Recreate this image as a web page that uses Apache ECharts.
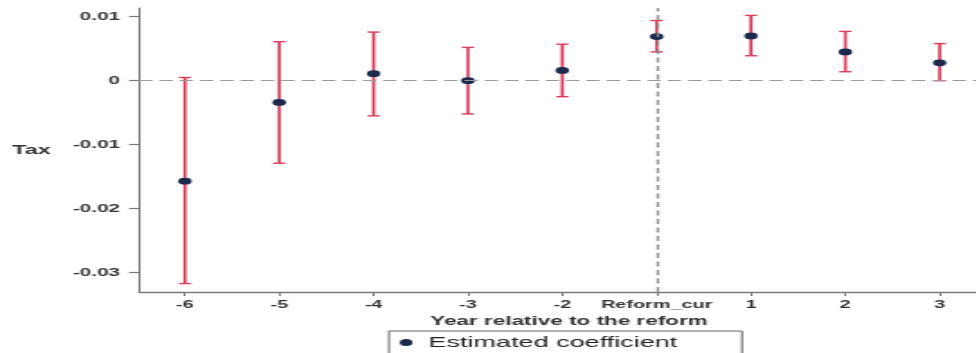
<!DOCTYPE html>
<html>
<head>
<meta charset="utf-8">
<script src="https://cdn.jsdelivr.net/npm/echarts@6/dist/echarts.min.js"></script>
<style>
  html, body { margin: 0; padding: 0; background: #fff; overflow: hidden; }
  #wrap { width: 976px; height: 353px; overflow: hidden; }
  #chart { width: 542.22px; height: 353px; transform: scaleX(1.8); transform-origin: 0 0; }
</style>
</head>
<body>
<div id="wrap"><div id="chart"></div></div>
<script>
// ---- data ----
const categories = ['-6', '-5', '-4', '-3', '-2', 'Reform_cur', '1', '2', '3'];
const coef  = [-0.0157, -0.0034, 0.0011, 0.0000, 0.0016, 0.0069, 0.0070, 0.0045, 0.0028];
const upper = [0.0005, 0.0061, 0.0076, 0.0052, 0.0057, 0.0094, 0.0102, 0.0077, 0.0058];
const lower = [-0.0317, -0.0129, -0.0055, -0.0052, -0.0025, 0.0045, 0.0039, 0.0014, 0.0000];
const yTicks = [-0.03, -0.02, -0.01, 0, 0.01];
const reformIndex = categories.indexOf('Reform_cur');

const xIdx = categories.map((c, i) => i);
const ciData = categories.map((c, i) => [i, lower[i], upper[i]]);
const ptData = categories.map((c, i) => [i, coef[i]]);

const FONT = '"Liberation Sans", Arial, sans-serif';
const RED = '#d93d5c';
const NAVY = '#1c2a4e';

const chart = echarts.init(document.getElementById('chart'));
chart.setOption({
  animation: false,
  backgroundColor: '#fff',
  grid: { left: 77.2, right: 0, top: 8, bottom: 61, containLabel: false },
  xAxis: {
    type: 'value',
    min: -0.487,
    max: 8.381,
    splitLine: { show: false },
    axisLine: { onZero: false, lineStyle: { color: '#7a7a7a', width: 1.3 } },
    axisTick: { customValues: xIdx, length: 4, lineStyle: { color: '#7a7a7a', width: 1 } },
    axisLabel: {
      customValues: xIdx,
      formatter: v => categories[Math.round(v)],
      margin: 7,
      fontFamily: FONT, fontSize: 11, fontWeight: 'bold', color: '#333'
    },
    name: 'Year relative to the reform',
    nameLocation: 'middle',
    nameGap: 17,
    nameTextStyle: { fontFamily: FONT, fontSize: 12.5, fontWeight: 'bold', color: '#333', padding: [0, 0, 0, 13] }
  },
  yAxis: {
    type: 'value',
    min: -0.03302,
    max: 0.01136,
    splitLine: { show: false },
    axisLine: { onZero: false, lineStyle: { color: '#7a7a7a', width: 1.1 } },
    axisTick: { customValues: yTicks, length: 5.5, lineStyle: { color: '#7a7a7a', width: 1.2 } },
    axisLabel: {
      customValues: yTicks,
      formatter: v => (Math.abs(v) < 1e-12 ? '0' : String(v)),
      margin: 10.5,
      fontFamily: FONT, fontSize: 11.5, fontWeight: 'bold', color: '#333'
    },
    name: 'Tax',
    nameLocation: 'middle',
    nameRotate: 0,
    nameGap: 49,
    nameTextStyle: { fontFamily: FONT, fontSize: 13, fontWeight: 'bold', color: '#333' }
  },
  legend: {
    data: ['Estimated coefficient'],
    left: 216.1,
    top: 331,
    orient: 'horizontal',
    padding: [4, 36, 8, 6],
    borderColor: '#666',
    borderWidth: 1,
    itemWidth: 7,
    itemHeight: 7,
    icon: 'circle',
    textStyle: { fontFamily: FONT, fontSize: 15, color: '#222', padding: [0, 0, 0, 4] }
  },
  series: [
    {
      type: 'custom',
      name: 'CI',
      data: ciData,
      z: 2,
      renderItem: function (params, api) {
        const x = api.value(0);
        const lo = api.coord([x, api.value(1)]);
        const hi = api.coord([x, api.value(2)]);
        const hw = 3.4;
        return {
          type: 'group',
          children: [
            { type: 'line', shape: { x1: lo[0], y1: lo[1], x2: hi[0], y2: hi[1] }, style: { stroke: RED, lineWidth: 1.7 } },
            { type: 'line', shape: { x1: lo[0] - hw, y1: lo[1], x2: lo[0] + hw, y2: lo[1] }, style: { stroke: RED, lineWidth: 1.4 } },
            { type: 'line', shape: { x1: hi[0] - hw, y1: hi[1], x2: hi[0] + hw, y2: hi[1] }, style: { stroke: RED, lineWidth: 1.4 } }
          ]
        };
      },
      markLine: {
        silent: true,
        symbol: 'none',
        label: { show: false },
        data: [
          { yAxis: 0, lineStyle: { color: '#9a9a9a', type: [7.4, 3.9], width: 1.2 } },
          { xAxis: reformIndex, lineStyle: { color: '#8a8a8a', type: [5, 3.5], width: 1.4 } }
        ]
      }
    },
    {
      type: 'scatter',
      name: 'Estimated coefficient',
      data: ptData,
      z: 3,
      symbol: 'circle',
      symbolSize: [7.5, 6.7],
      itemStyle: { color: NAVY, opacity: 1 }
    }
  ]
});
</script>
</body>
</html>
